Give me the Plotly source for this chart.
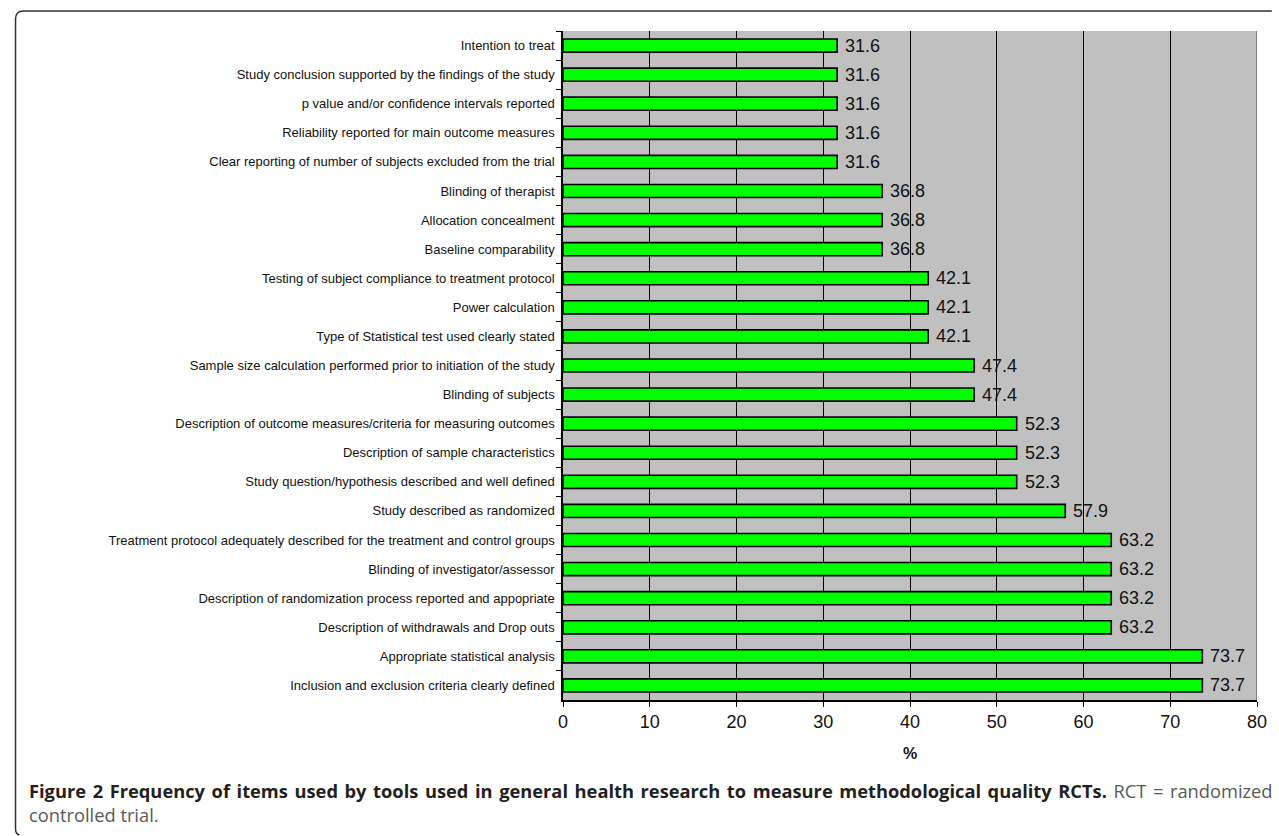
import plotly.graph_objects as go

# Checklist items (top to bottom) and the share of tools that include each one (%)
items = [
    "Intention to treat",
    "Study conclusion supported by the findings of the study",
    "p value and/or confidence intervals reported",
    "Reliability reported for main outcome measures",
    "Clear reporting of number of subjects excluded from the trial",
    "Blinding of therapist",
    "Allocation concealment",
    "Baseline comparability",
    "Testing of subject compliance to treatment protocol",
    "Power calculation",
    "Type of Statistical test used clearly stated",
    "Sample size calculation performed prior to initiation of the study",
    "Blinding of subjects",
    "Description of outcome measures/criteria for measuring outcomes",
    "Description of sample characteristics",
    "Study question/hypothesis described and well defined",
    "Study described as randomized",
    "Treatment protocol adequately described for the treatment and control groups",
    "Blinding of investigator/assessor",
    "Description of randomization process reported and appopriate",
    "Description of withdrawals and Drop outs",
    "Appropriate statistical analysis",
    "Inclusion and exclusion criteria clearly defined",
]
percent = [31.6, 31.6, 31.6, 31.6, 31.6, 36.8, 36.8, 36.8, 42.1, 42.1, 42.1,
           47.4, 47.4, 52.3, 52.3, 52.3, 57.9, 63.2, 63.2, 63.2, 63.2, 73.7, 73.7]
x_ticks = [0, 10, 20, 30, 40, 50, 60, 70, 80]

W, H = 1279, 836
L, R, T, B = 563, 15, 31, 136
PW, PH = W - L - R, H - T - B


def px(x):
    return (x - L) / PW


def py(y):
    return 1 - (y - T) / PH


fig = go.Figure(
    go.Bar(
        x=percent,
        y=items,
        orientation="h",
        marker=dict(color="#00FF00", line=dict(color="#000000", width=1.6)),
        hoverinfo="skip",
    )
)

# Value labels just right of each bar end
for item, v in zip(items, percent):
    fig.add_annotation(
        x=v, y=item, xref="x", yref="y", text=f"{v:.1f}", showarrow=False,
        xanchor="left", yanchor="middle", xshift=6,
        font=dict(family="Liberation Sans, Arial, sans-serif", size=18, color="#111111"),
    )

fig.update_layout(
    width=W,
    height=H,
    margin=dict(l=L, r=R, t=T, b=B, pad=0),
    paper_bgcolor="white",
    plot_bgcolor="#C0C0C0",
    bargap=0.55,
    showlegend=False,
    font=dict(family="Liberation Sans, Arial, sans-serif", color="#111111"),
)

fig.update_xaxes(
    range=[0, 80],
    tickvals=x_ticks,
    ticks="outside",
    ticklen=5,
    tickcolor="#000000",
    tickwidth=1,
    showline=True,
    linecolor="#000000",
    linewidth=1.5,
    showgrid=True,
    gridcolor="#000000",
    gridwidth=1,
    zeroline=False,
    tickfont=dict(size=18, color="#111111"),
    title=dict(text="<b>%</b>", font=dict(size=16, color="#111111"), standoff=16),
    fixedrange=True,
)

fig.update_yaxes(
    categoryorder="array",
    categoryarray=items,
    autorange="reversed",
    ticks="outside",
    tickson="boundaries",
    ticklen=5,
    tickcolor="#000000",
    tickwidth=1,
    showline=True,
    linecolor="#000000",
    linewidth=1.5,
    showgrid=False,
    tickfont=dict(size=13, color="#111111"),
    ticklabelstandoff=4,
    fixedrange=True,
)

# Darker frame on the right edge of the plotting area
fig.add_shape(type="line", xref="x", yref="paper", x0=80, x1=80, y0=0, y1=1,
              line=dict(color="#808080", width=2))

# Open figure frame: top rule and left rule with rounded corners
frame = (f"M {px(1279)},{py(11)} L {px(18)},{py(11)} "
         f"Q {px(10)},{py(11)} {px(10)},{py(19)} "
         f"L {px(10)},{py(829)} Q {px(10)},{py(834)} {px(14)},{py(835)}")
fig.add_shape(type="path", xref="paper", yref="paper", path=frame,
              line=dict(color="#333333", width=1.5))

# Caption, first line justified with slightly widened word gaps
gap = " \u200a"
bold_words = ("Figure 2 Frequency of items used by tools used in general health research "
              "to measure methodological quality RCTs.").split(" ")
plain_words = "RCT = randomized".split(" ")
caption_font = dict(family="Open Sans, sans-serif", size=18.3)
fig.add_annotation(
    xref="paper", yref="paper", x=px(22), y=py(790), xanchor="left", yanchor="middle",
    showarrow=False, font=caption_font,
    text=("<span style='color:#231F20'><b>" + gap.join(bold_words) + "</b></span>"
          "<span style='color:#58595B'>" + gap + gap.join(plain_words) + "</span>"),
)
fig.add_annotation(
    xref="paper", yref="paper", x=px(22), y=py(815), xanchor="left", yanchor="middle",
    showarrow=False, font=caption_font,
    text="<span style='color:#58595B'>controlled trial.</span>",
)

fig.write_html("out.html", config={"displayModeBar": False})
